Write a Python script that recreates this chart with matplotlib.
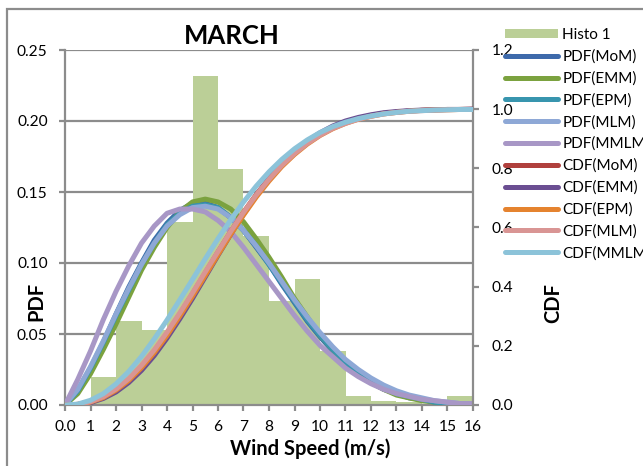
import matplotlib
matplotlib.use("Agg")
import matplotlib.pyplot as plt
from matplotlib.patches import Rectangle
import numpy as np

plt.rcParams["font.family"] = ["Lato", "DejaVu Sans"]

# histogram of observed wind speed (bin edges 0..16 m/s, width 1)
bin_left = list(range(0, 16))
histo = [0.0, 0.020, 0.059, 0.053, 0.129, 0.232, 0.166, 0.119,
         0.073, 0.089, 0.038, 0.0066, 0.003, 0.002, 0.001, 0.0066]

# fitted curves, sampled every 0.5 m/s
speed = [i * 0.5 for i in range(33)]

pdf_mom = [0, 10, 26, 44, 64, 83, 100, 116, 128, 137, 142, 142, 139, 132, 123, 111, 99,
           85, 72, 59, 48, 38, 29, 22, 16, 11, 8, 5, 4, 2, 1, 1, 1]
pdf_emm = [0, 8, 22, 39, 57, 76, 95, 111, 125, 136, 143, 145, 143, 138, 129, 117, 104,
           90, 75, 62, 49, 39, 29, 22, 16, 11, 7, 5, 3, 2, 1, 1, 0]
pdf_epm = [0, 10, 26, 44, 63, 81, 99, 114, 127, 135, 140, 141, 139, 132, 123, 112, 99,
           86, 73, 60, 49, 39, 30, 23, 17, 12, 8, 6, 4, 2, 1, 1, 1]
pdf_mlm = [0, 11, 27, 45, 64, 82, 99, 114, 126, 134, 139, 140, 138, 132, 123, 112, 100,
           87, 74, 62, 51, 41, 32, 25, 19, 14, 10, 7, 5, 3, 2, 1, 1]
pdf_mmlm = [0, 18, 38, 60, 80, 98, 114, 126, 135, 138, 138, 136, 130, 122, 111, 99, 87,
            75, 63, 52, 42, 34, 26, 20, 15, 11, 8, 6, 4, 3, 2, 1, 1]

cdf_mom = [0, 2, 10, 26, 51, 85, 129, 181, 240, 306, 375, 446, 517, 586, 651, 711, 766,
           813, 854, 888, 916, 938, 956, 969, 979, 986, 990, 994, 996, 998, 999, 999, 1000]
cdf_emm = [0, 1, 8, 22, 44, 76, 117, 167, 226, 291, 360, 433, 506, 577, 645, 708, 765,
           814, 857, 892, 920, 943, 960, 972, 981, 988, 992, 995, 997, 998, 999, 999, 1000]
cdf_epm = [0, 2, 10, 25, 50, 83, 126, 177, 235, 300, 368, 438, 508, 577, 642, 703, 757,
           806, 847, 882, 911, 934, 952, 966, 976, 984, 989, 993, 996, 997, 998, 999, 999]
cdf_mlm = [0, 2, 11, 28, 54, 89, 134, 186, 246, 311, 379, 450, 519, 587, 651, 710, 763,
           810, 850, 884, 912, 935, 952, 966, 976, 984, 989, 993, 995, 997, 998, 999, 999]
cdf_mmlm = [0, 3, 16, 38, 71, 113, 164, 223, 287, 355, 424, 494, 562, 626, 686, 740, 788,
            830, 866, 896, 921, 941, 956, 968, 977, 984, 989, 993, 995, 997, 998, 999, 999]

pdf_series = [("PDF(MoM)", pdf_mom, "#3E6AAB"),
              ("PDF(EMM)", pdf_emm, "#7BA23F"),
              ("PDF(EPM)", pdf_epm, "#3895AE"),
              ("PDF(MLM)", pdf_mlm, "#8EA8D6"),
              ("PDF(MMLM)", pdf_mmlm, "#A897C6")]
cdf_series = [("CDF(MoM)", cdf_mom, "#B0403D"),
              ("CDF(EMM)", cdf_emm, "#6B4E92"),
              ("CDF(EPM)", cdf_epm, "#E5832F"),
              ("CDF(MLM)", cdf_mlm, "#D99594"),
              ("CDF(MMLM)", cdf_mmlm, "#8CC3D9")]

grey = "#8C8C8C"
W, H = 643, 466
fig = plt.figure(figsize=(W / 100, H / 100), dpi=100)
ax = fig.add_axes([65 / W, 61 / H, 408 / W, 355 / H])

# chart frame
fig.patches.append(Rectangle((7 / W, -0.05), 1.2, (H - 9) / H + 0.05,
                             transform=fig.transFigure, fill=False,
                             edgecolor=grey, linewidth=1.6))

bars = ax.bar(bin_left, histo, width=1.0, align="edge", color="#BBCF97",
              edgecolor="none", label="Histo 1", zorder=2)

handles = [bars]
for name, vals, col in pdf_series:
    ln, = ax.plot(speed, np.array(vals) / 1000, color=col, lw=3.6,
                  solid_capstyle="round", label=name, zorder=3)
    handles.append(ln)

ax.set_xlim(0, 16)
ax.set_ylim(0, 0.25)
ax.set_xticks(range(17))
ax.set_xticklabels(["0.0"] + [str(i) for i in range(1, 17)])
ax.set_yticks([0, 0.05, 0.10, 0.15, 0.20, 0.25])
ax.set_yticklabels(["0.00", "0.05", "0.10", "0.15", "0.20", "0.25"])
ax.grid(axis="y", color=grey, lw=1.6)
ax.set_axisbelow(True)
ax.tick_params(labelsize=11.2, width=1.6, length=4.5, color=grey)
ax.tick_params(axis="y", pad=8)
ax.tick_params(axis="x", pad=6)
for s in ["top", "right"]:
    ax.spines[s].set_visible(False)
for s in ["left", "bottom"]:
    ax.spines[s].set_color(grey)
    ax.spines[s].set_linewidth(1.6)

ax2 = ax.twinx()
for name, vals, col in cdf_series:
    ln, = ax2.plot(speed, np.array(vals) / 1000, color=col, lw=3.6,
                   solid_capstyle="round", label=name, zorder=3)
    handles.append(ln)
ax2.set_ylim(0, 1.2)
ax2.set_yticks([0, 0.2, 0.4, 0.6, 0.8, 1.0, 1.2])
ax2.set_yticklabels(["0.0", "0.2", "0.4", "0.6", "0.8", "1.0", "1.2"])
ax2.tick_params(labelsize=11.2, width=1.6, length=4.5, color=grey, pad=9)
for s in ["top", "left", "bottom"]:
    ax2.spines[s].set_visible(False)
ax2.spines["right"].set_color(grey)
ax2.spines["right"].set_linewidth(1.6)

# axis titles and chart title
fig.text(310 / W, 1 - 449 / H, "Wind Speed (m/s)", fontsize=14.5, fontweight="bold",
         ha="center", va="center")
fig.text(36 / W, 1 - 301 / H, "PDF", fontsize=14.5, fontweight="bold",
         ha="center", va="center", rotation=90)
fig.text(553 / W, 1 - 303 / H, "CDF", fontsize=14.5, fontweight="bold",
         ha="center", va="center", rotation=90)
fig.text(232 / W, 1 - 36 / H, "MARCH", fontsize=18.5, fontweight="bold",
         ha="center", va="center")

leg = fig.legend(handles=handles, loc="upper left",
                 bbox_to_anchor=(505 / W, 1 - 28 / H), frameon=False,
                 fontsize=11, handlelength=3.45, handletextpad=0.3,
                 handleheight=0.58, labelspacing=0.49, borderaxespad=0,
                 borderpad=0)
for h in leg.legend_handles[1:]:
    h.set_linewidth(3.6)

fig.savefig("out.png", dpi=100)
